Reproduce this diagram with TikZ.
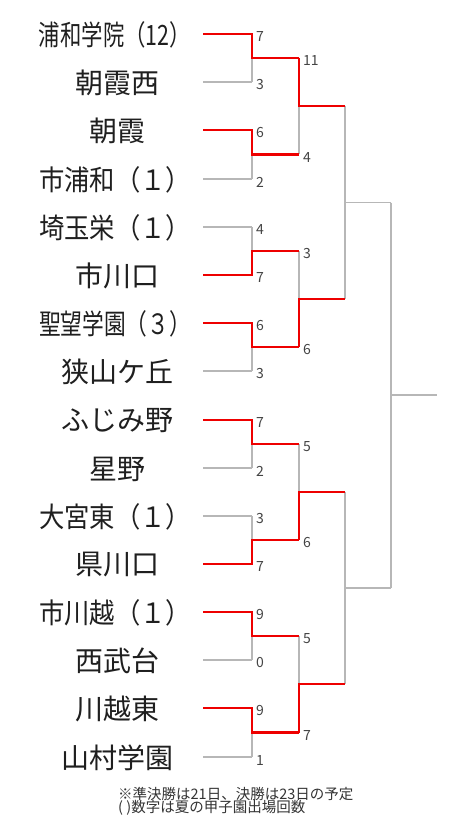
\documentclass[tikz,border=0pt]{standalone}
\usepackage{graphicx}
\usepackage{fontspec}
\setmainfont{Noto Sans CJK JP}
\definecolor{wincol}{RGB}{238,0,0}
\definecolor{losecol}{RGB}{183,183,183}
\definecolor{scorecol}{RGB}{68,68,68}
\newcommand{\fitname}[1]{\resizebox{152pt}{\height}{#1}}
\tikzset{
  team/.style={font=\fontsize{28}{30}\selectfont, text=black!88, inner sep=0pt},
  score/.style={font=\fontsize{14}{15}\selectfont, text=scorecol, anchor=west, inner sep=0pt, xshift=4pt, yshift=-3pt},
  loseline/.style={draw=losecol, line width=1.5pt},
  winline/.style={draw=wincol, line width=2.2pt},
  notetext/.style={font=\fontsize{14.5}{13}\selectfont, text=black!80, anchor=base west, inner sep=0pt}
}

\begin{document}
\begin{tikzpicture}[x=1pt, y=-1pt]
  \fill[white] (0,0) rectangle (464,829);
  \useasboundingbox (0,0) rectangle (464,829);

  % team rows: start of line and first corner
  \foreach \i/\y in {1/34, 2/82, 3/130, 4/179, 5/227, 6/275, 7/323, 8/371,
                     9/420, 10/468, 11/516, 12/564, 13/612, 14/660, 15/708, 16/757} {
    \coordinate (a\i) at (203,\y);
    \coordinate (b\i) at (252,\y);
  }
  % second round
  \foreach \k/\y in {1/58, 2/154.5, 3/251, 4/347, 5/444, 6/540, 7/636, 8/732.5} {
    \coordinate (p\k) at (252,\y);
    \coordinate (q\k) at (299,\y);
  }
  % third round
  \foreach \k/\y in {1/106, 2/299, 3/492, 4/684} {
    \coordinate (u\k) at (299,\y);
    \coordinate (v\k) at (345,\y);
  }
  % semi final and final
  \coordinate (s1) at (345,202.5);
  \coordinate (w1) at (391,202.5);
  \coordinate (s2) at (345,588);
  \coordinate (w2) at (391,588);
  \coordinate (f) at (391,395);
  \coordinate (g) at (437,395);

  \node[team] (t1) at (115,35) {\fitname{浦和学院（12）}};
  \node[team] (t2) at (117,83) {朝霞西};
  \node[team] (t3) at (117,131) {朝霞};
  \node[team] (t4) at (115,180) {\fitname{市浦和（１）}};
  \node[team] (t5) at (115,228) {\fitname{埼玉栄（１）}};
  \node[team] (t6) at (117,276) {市川口};
  \node[team] (t7) at (115,324) {\fitname{聖望学園（３）}};
  \node[team] (t8) at (117,372) {狭山ケ丘};
  \node[team] (t9) at (117,421) {ふじみ野};
  \node[team] (t10) at (117,469) {星野};
  \node[team] (t11) at (115,517) {\fitname{大宮東（１）}};
  \node[team] (t12) at (117,565) {県川口};
  \node[team] (t13) at (115,613) {\fitname{市川越（１）}};
  \node[team] (t14) at (117,661) {西武台};
  \node[team] (t15) at (117,709) {川越東};
  \node[team] (t16) at (117,758) {山村学園};

  % gray lines
  \foreach \i in {1,...,16}
    \draw[loseline] (a\i) -- (b\i);
  \foreach \i/\j/\k in {1/2/1, 3/4/2, 5/6/3, 7/8/4, 9/10/5, 11/12/6, 13/14/7, 15/16/8} {
    \draw[loseline] (b\i) -- (b\j);
    \draw[loseline] (p\k) -- (q\k);
  }
  \foreach \i/\j/\k in {1/2/1, 3/4/2, 5/6/3, 7/8/4} {
    \draw[loseline] (q\i) -- (q\j);
    \draw[loseline] (u\k) -- (v\k);
  }
  \draw[loseline] (v1) -- (v2);
  \draw[loseline] (v3) -- (v4);
  \draw[loseline] (s1) -- (w1);
  \draw[loseline] (s2) -- (w2);
  \draw[loseline] (w1) -- (w2);
  \draw[loseline] (f) -- (g);

  % winners in red
  \foreach \i/\k in {1/1, 3/2, 6/3, 7/4, 9/5, 12/6, 13/7, 15/8}
    \draw[winline] (a\i) -- (b\i) -- (p\k) -- (q\k);
  \foreach \k/\m in {1/1, 4/2, 6/3, 8/4}
    \draw[winline] (q\k) -- (u\m) -- (v\m);

  % scores
  \foreach \i/\s in {1/7, 2/3, 3/6, 4/2, 5/4, 6/7, 7/6, 8/3,
                     9/7, 10/2, 11/3, 12/7, 13/9, 14/0, 15/9, 16/1}
    \node[score] (sc\i) at (b\i) {\s};
  \foreach \k/\s in {1/11, 2/4, 3/3, 4/6, 5/5, 6/6, 7/5, 8/7}
    \node[score] (sr\k) at (q\k) {\s};

  \node[notetext] (note1) at (118,799) {※準決勝は21日、決勝は23日の予定};
  \node[notetext] (note2) at (118,812) {( )数字は夏の甲子園出場回数};
\end{tikzpicture}
\end{document}
